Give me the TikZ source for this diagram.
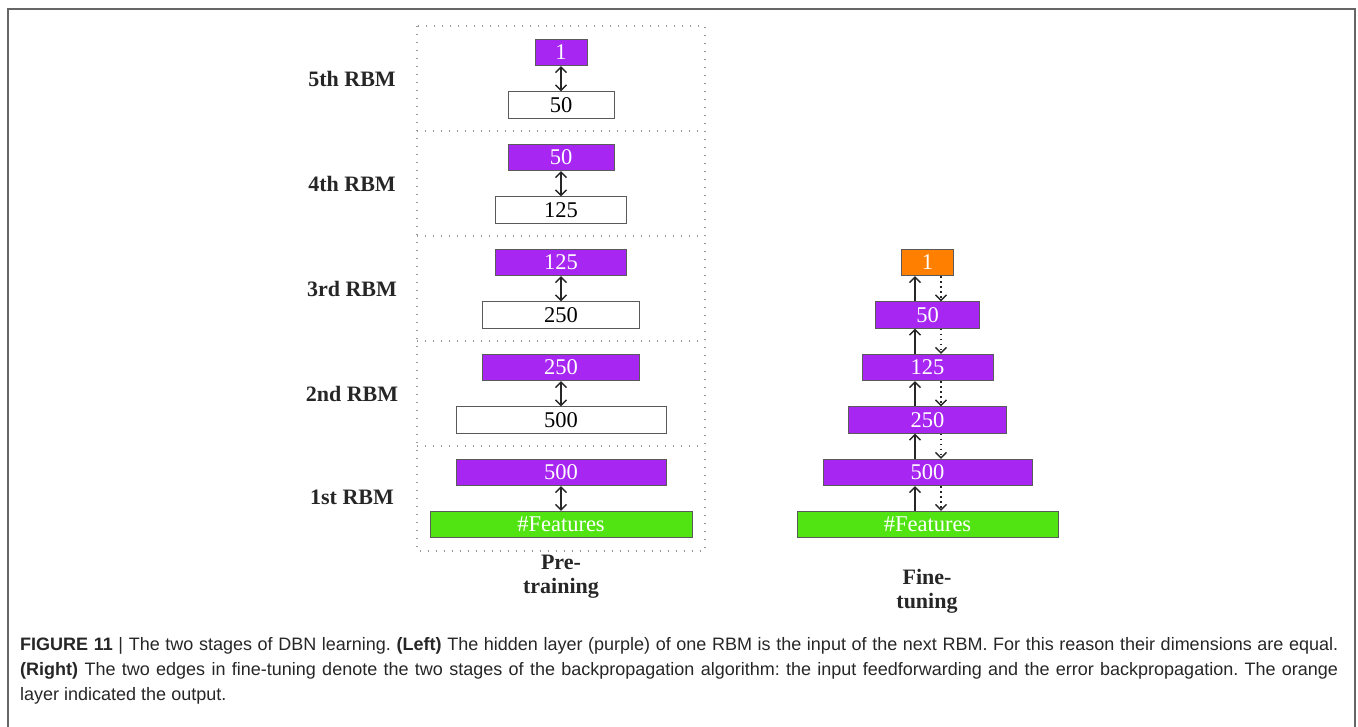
\documentclass[tikz,border=0pt]{standalone}
\usepackage{fontspec}
\setmainfont{Liberation Serif}
\newfontfamily\capfont{Liberation Sans}
\usetikzlibrary{arrows.meta}
\definecolor{dbnpurple}{RGB}{168,38,242}
\definecolor{dbnorange}{RGB}{255,128,0}
\definecolor{dbngreen}{RGB}{82,228,18}
\definecolor{boxline}{RGB}{90,90,90}
\tikzset{
  layer/.style={rectangle, draw=boxline, line width=0.9pt, minimum height=26.5pt, inner sep=0pt,
    font=\fontsize{22.5}{22}\selectfont},
  hid/.style={layer, fill=dbnpurple, text=white},
  vis/.style={layer, fill=white, text=black},
  inp/.style={layer, fill=dbngreen, text=white},
  outl/.style={layer, fill=dbnorange, text=white},
  rbmlabel/.style={font=\fontsize{22}{22}\selectfont\bfseries, text=black!85},
  stagelabel/.style={font=\fontsize{22}{24}\selectfont\bfseries, align=center, text=black!85},
  dotline/.style={draw=black!40, line width=1.3pt, dash pattern=on 1.3pt off 6.7pt},
  tipb/.tip={Straight Barb[length=5.5pt,width=11pt]},
  dbl/.style={line width=1.4pt, draw=black!85, tipb-tipb},
  fwd/.style={line width=1.4pt, draw=black!85, -tipb},
  bwd/.style={line width=1.4pt, draw=black!85, dash pattern=on 1.4pt off 3.6pt, -tipb},
  frameline/.style={draw=black!60, line width=1.6pt}
}
\begin{document}
\begin{tikzpicture}[x=1pt,y=-1pt]
\useasboundingbox (0,0) rectangle (1358,727);
% frame
\draw[frameline] (8,727) -- (8,9) -- (1355,9) -- (1355,727);
% dotted boxes of pre-training
\draw[dotline] (417,26) rectangle (705,551);
\foreach \yy in {131,236,341,446} {\draw[dotline] (417,\yy) -- (705,\yy);}
% pre-training stack
\node[hid, minimum width=52pt]  (p5) at (561,52.5) {1};
\node[vis, minimum width=106pt] (v5) at (561,105) {50};
\node[hid, minimum width=106pt] (p4) at (561,157.5) {50};
\node[vis, minimum width=131pt] (v4) at (561,210) {125};
\node[hid, minimum width=131pt] (p3) at (561,262.5) {125};
\node[vis, minimum width=157pt] (v3) at (561,315) {250};
\node[hid, minimum width=157pt] (p2) at (561,367.5) {250};
\node[vis, minimum width=210pt] (v2) at (561,420) {500};
\node[hid, minimum width=210pt] (p1) at (561,472.5) {500};
\node[inp, minimum width=262pt] (g1) at (561,524.5) {\#Features};
\draw[dbl] (p5.south) -- (v5.north);
\draw[dbl] (p4.south) -- (v4.north);
\draw[dbl] (p3.south) -- (v3.north);
\draw[dbl] (p2.south) -- (v2.north);
\draw[dbl] (p1.south) -- (g1.north);
% RBM labels
\node[rbmlabel] (l5) at (352,78.5) {5th RBM};
\node[rbmlabel] (l4) at (352,183.5) {4th RBM};
\node[rbmlabel] (l3) at (352,288.5) {3rd RBM};
\node[rbmlabel] (l2) at (352,393.5) {2nd RBM};
\node[rbmlabel] (l1) at (352,497.5) {1st RBM};
\node[stagelabel] (pre) at (561,577) {Pre-\\training};
% fine-tuning stack
\node[outl, minimum width=52pt]  (f6) at (927.5,262.5) {1};
\node[hid, minimum width=104pt] (f5) at (927.5,315) {50};
\node[hid, minimum width=131pt] (f4) at (927.5,367.5) {125};
\node[hid, minimum width=158pt] (f3) at (927.5,420) {250};
\node[hid, minimum width=209pt] (f2) at (927.5,472.5) {500};
\node[inp, minimum width=261pt] (f1) at (927.5,524.5) {\#Features};
\foreach \lo/\hi in {f1/f2,f2/f3,f3/f4,f4/f5,f5/f6} {
  \draw[fwd] ([xshift=-12.5pt]\lo.north) -- ([xshift=-12.5pt]\hi.south);
  \draw[bwd] ([xshift=13.5pt]\hi.south) -- ([xshift=13.5pt]\lo.north);
}
\node[stagelabel] (fine) at (927,591) {Fine-\\tuning};
% caption
\node[anchor=north west, inner sep=0pt, text width=1318pt, align=justify,
  font=\capfont\fontsize{18}{25}\selectfont\frenchspacing, text=black!85] (cap) at (20,637)
{\textbf{FIGURE 11} | The two stages of DBN learning. \textbf{(Left)} The hidden layer (purple) of one RBM is the input of the next RBM. For this reason their dimensions are equal.\linebreak
\textbf{(Right)} The two edges in fine-tuning denote the two stages of the backpropagation algorithm: the input feedforwarding and the error backpropagation. The orange\linebreak
layer indicated the output.};
\end{tikzpicture}
\end{document}
